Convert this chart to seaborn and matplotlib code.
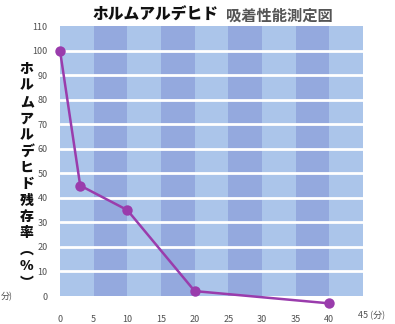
import matplotlib
matplotlib.use("Agg")
import matplotlib.pyplot as plt
import seaborn as sns
import pandas as pd

# data
time_min = [0, 3, 10, 20, 40]
residual_pct = [100, 45, 35, 2, -3]
x_ticks = [0, 5, 10, 15, 20, 25, 30, 35, 40]
y_ticks = [0, 10, 20, 30, 40, 50, 60, 70, 80, 90, 100, 110]
title_bold = "ホルムアルデヒド"
title_rest = "吸着性能測定図"
ylabel_chars = ["ホ", "ル", "ム", "ア", "ル", "デ", "ヒ", "ド", "残", "存", "率", "︵", "%", "︶"]
x_unit = "45 (分)"
left_unit = "分)"

sns.set_theme(style="white")
plt.rcParams['font.family'] = ['Noto Sans CJK JP', 'DejaVu Sans']

df = pd.DataFrame({"time": time_min, "residual": residual_pct})

fig = plt.figure(figsize=(3.95, 3.24), dpi=100)
ax = fig.add_axes([60/395, 28/324, 303/395, 270/324])

light = "#abc5ea"
dark = "#94a9de"
for i in range(9):
    ax.axvspan(i*5, (i+1)*5, color=light if i % 2 == 0 else dark, lw=0, zorder=0)
for y in y_ticks[1:-1]:
    ax.axhline(y, color="white", lw=2.0, zorder=1)

purple = "#9a3cac"
sns.lineplot(data=df, x="time", y="residual", ax=ax, color=purple, lw=1.8,
             marker="o", markersize=7.5, markeredgewidth=0, clip_on=False, zorder=3)

ax.set_xlim(0, 45)
ax.set_ylim(0, 110)
ax.set_xticks(x_ticks)
ax.set_xticklabels([str(v) for v in x_ticks])
ax.set_yticks(y_ticks)
ax.set_yticklabels([str(v) for v in y_ticks])
ax.tick_params(axis="both", length=0, labelsize=6.5, colors="#505050")
ax.tick_params(axis="x", pad=14)
ax.tick_params(axis="y", pad=9)
for s in ax.spines.values():
    s.set_visible(False)
ax.set_xlabel("")
ax.set_ylabel("")

ax.text(44.3, -0.074, x_unit, transform=ax.get_xaxis_transform(), ha="left", va="center",
        fontsize=6.5, color="#505050")

fig.text(0.552, 0.952, title_bold, ha="right", va="center", fontsize=11.3,
         fontweight="heavy", color="#111111")
fig.text(0.572, 0.952, title_rest, ha="left", va="center", fontsize=11,
         fontweight="bold", color="#555555")

fig.text(0.068, 0.457, "\n".join(ylabel_chars), ha="center", va="center", fontsize=10,
         fontweight="heavy", color="#111111", linespacing=1.22, multialignment="center")

fig.text(0.002, 0.083, left_unit, ha="left", va="center", fontsize=6.5, color="#505050")

fig.savefig("out.png", dpi=100, facecolor="white")
